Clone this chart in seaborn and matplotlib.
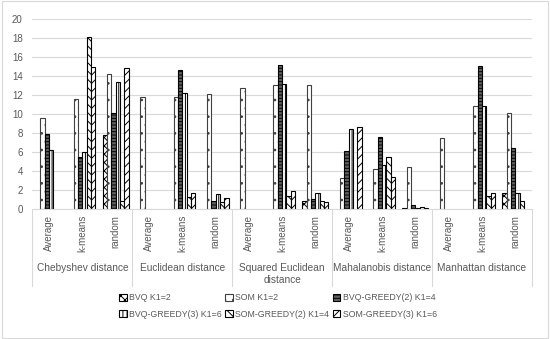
import matplotlib
matplotlib.use("Agg")
import matplotlib.pyplot as plt
import matplotlib.transforms as mtransforms
from matplotlib.patches import Rectangle, Patch
from matplotlib.lines import Line2D
import seaborn as sns
import pandas as pd

groups = ["Chebyshev distance", "Euclidean distance", "Squared Euclidean\ndistance",
          "Mahalanobis distance", "Manhattan distance"]
subcats = ["Average", "k-means", "random"]
series = ["BVQ K1=2", "SOM K1=2", "BVQ-GREEDY(2) K1=4",
          "BVQ-GREEDY(3) K1=6", "SOM-GREEDY(2) K1=4", "SOM-GREEDY(3) K1=6"]

bvq = [0, 0, 7.8, 0, 0, 0, 0, 0, 0.84, 0, 0, 0.1, 0, 0, 1.68]
som = [9.6, 11.6, 14.2, 11.8, 11.75, 12.1, 12.7, 13.05, 13.1, 3.3, 4.2, 4.45, 7.5, 10.9, 10.07]
bvq_g2 = [7.9, 5.5, 10.1, 0, 14.6, 0.9, 0, 15.2, 1.1, 6.1, 7.55, 0.45, 0, 15.05, 6.45]
bvq_g3 = [6.2, 6.0, 13.4, 0, 12.25, 1.55, 0, 13.2, 1.7, 8.4, 4.63, 0.1, 0, 10.8, 1.75]
som_g2 = [0, 18.1, 0.9, 0, 1.3, 0.8, 0, 1.35, 0.85, 0, 5.44, 0.2, 0, 1.37, 0.87]
som_g3 = [0, 15.0, 14.8, 0, 1.65, 1.2, 0, 1.9, 0.8, 8.65, 3.4, 0.1, 0, 1.68, 0]
values = [bvq, som, bvq_g2, bvq_g3, som_g2, som_g3]

cats = [f"{g}|{s}" for g in groups for s in subcats]
rows = []
for sname, vals in zip(series, values):
    for c, v in zip(cats, vals):
        rows.append({"cat": c, "series": sname, "value": v})
df = pd.DataFrame(rows)

sns.set_theme(style="white")
plt.rcParams['font.family'] = ['Liberation Sans', 'DejaVu Sans']
plt.rcParams['hatch.linewidth'] = 0.7

fig = plt.figure(figsize=(5.5, 3.39), dpi=100)
ax = fig.add_axes([0.059, 0.383, 0.908, 0.561])

sns.barplot(data=df, x="cat", y="value", hue="series", order=cats, hue_order=series,
            width=0.78, dodge=True, ax=ax, legend=False, errorbar=None)

styles = [
    dict(fc="white", hatch="xxxx", ec="black"),
    dict(fc="white", hatch="..", ec="#404040"),
    dict(fc="#606060", hatch="-----", ec="black"),
    dict(fc="white", hatch="||||", ec="black"),
    dict(fc="white", hatch="\\\\\\\\", ec="black"),
    dict(fc="white", hatch="////", ec="black"),
]
for cont, st in zip(ax.containers, styles):
    for p in cont.patches:
        p.set_facecolor(st["fc"])
        p.set_hatch(st["hatch"])
        p.set_edgecolor(st["ec"])
        p.set_linewidth(0.8)
        if p.get_height() == 0:
            p.set_visible(False)

ax.set_ylim(0, 20)
ax.set_yticks(range(0, 21, 2))
ax.set_xlim(-0.5, len(cats) - 0.5)
ax.yaxis.grid(True, color="#d9d9d9", linewidth=0.8)
ax.set_axisbelow(True)
for s in ["top", "right", "left"]:
    ax.spines[s].set_visible(False)
ax.spines["bottom"].set_color("#d9d9d9")
ax.spines["bottom"].set_linewidth(0.8)
ax.set_xlabel("")
ax.set_ylabel("")
ax.tick_params(axis="y", length=0, labelsize=7, labelcolor="#595959", pad=7)
ax.set_xticks(range(len(cats)))
ax.set_xticklabels([c.split("|")[1] for c in cats], rotation=90, fontsize=7, color="#595959")
ax.tick_params(axis="x", length=0, pad=4)

trans = mtransforms.blended_transform_factory(ax.transData, fig.transFigure)
for gi, g in enumerate(groups):
    xc = gi * 3 + 1
    ax.text(xc, 1 - 263 / 339, g, transform=trans, ha="center", va="top",
            fontsize=7.3, color="#595959", linespacing=1.25)
for b in range(len(groups) + 1):
    xb = b * 3 - 0.5
    ax.add_line(Line2D([xb, xb], [1 - 209 / 339, 1 - 286 / 339], transform=trans,
                       color="#d9d9d9", linewidth=0.8, clip_on=False))

handles = [Patch(facecolor=st["fc"], hatch=st["hatch"], edgecolor=st["ec"], linewidth=0.8)
           for st in styles]
order = [0, 3, 1, 4, 2, 5]
leg = fig.legend([handles[i] for i in order], [series[i] for i in order], ncol=3,
                 loc="center", bbox_to_anchor=(0.505, 1 - 306 / 339),
                 frameon=False, fontsize=6.3, handlelength=0.9, handleheight=0.9,
                 handletextpad=0.25, columnspacing=0.4, labelspacing=0.85)
for t in leg.get_texts():
    t.set_color("#595959")

fig.patches.append(Rectangle((0.003, 0.004), 0.994, 0.992, transform=fig.transFigure,
                             fill=False, edgecolor="#d9d9d9", linewidth=0.8))

fig.savefig("out.png", dpi=100)
